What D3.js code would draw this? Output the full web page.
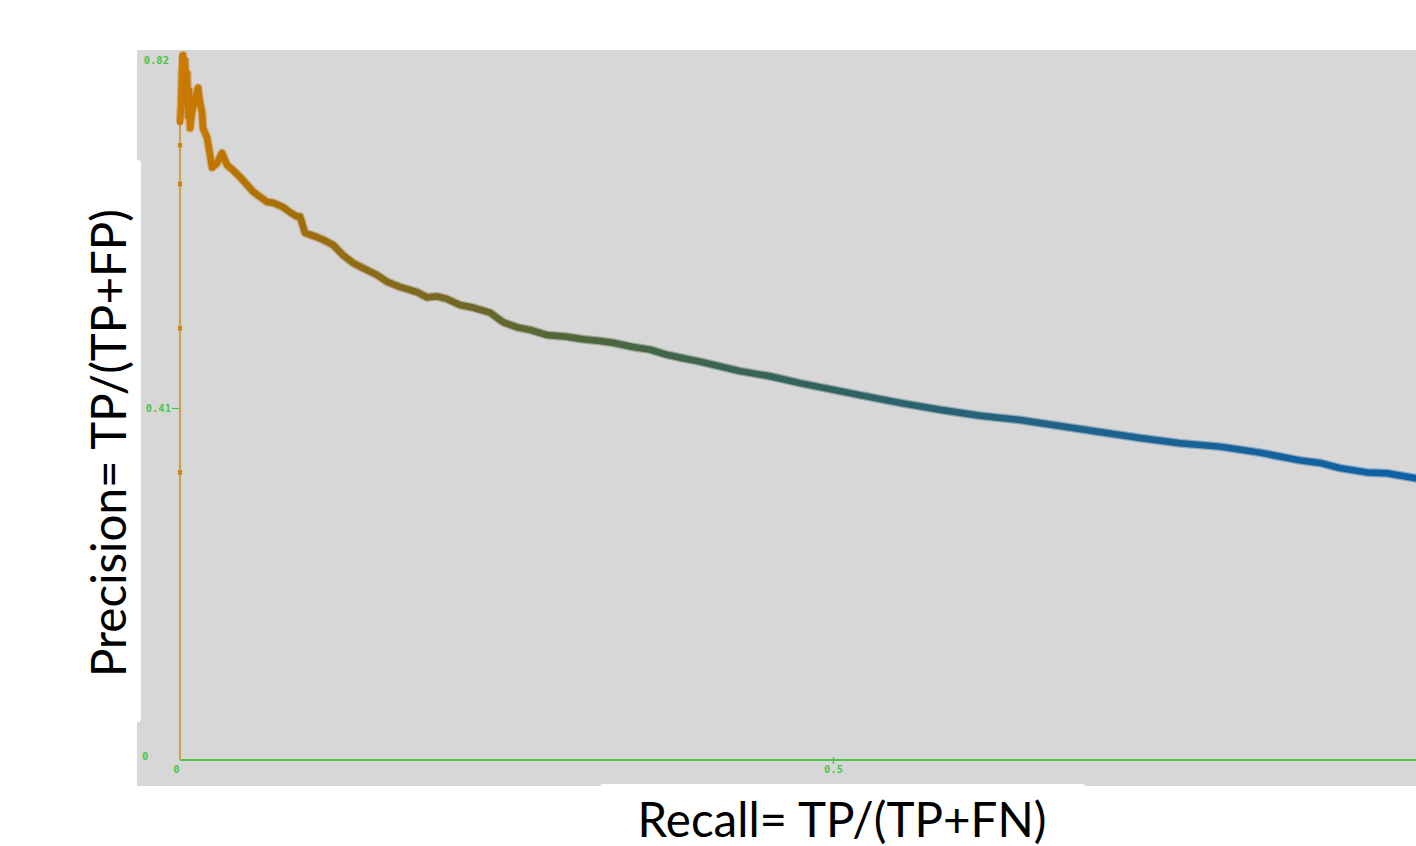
<!DOCTYPE html>
<html>
<head>
<meta charset="utf-8">
<script src="https://cdn.jsdelivr.net/npm/d3@7"></script>
<style>
  html, body { margin: 0; padding: 0; background: #ffffff; }
  svg { display: block; }
</style>
</head>
<body>
<svg id="chart" width="1416" height="846"></svg>
<script>
// ---- data ----
const recallAxisTicks = [0, 0.5];
const recallTickLabels = ["0", "0.5"];
const precisionTicks = [0.41, 0.82];
const precisionTickLabels = ["0.41", "0.82"];

// points at recall = 0 (vertical start of the curve)
const startRecall = [0, 0, 0, 0, 0, 0];
const startPrecision = [0, 0.335, 0.503, 0.671, 0.716, 0.743];

// main precision/recall curve
const recall = [0, 0.0008, 0.0015, 0.0023, 0.0030, 0.0038, 0.0046, 0.0054, 0.0061, 0.0069, 0.0077,
  0.0092, 0.0115, 0.0138, 0.0153, 0.0168, 0.0176, 0.0207, 0.0230, 0.0245, 0.0283, 0.0322, 0.0360,
  0.0406, 0.0459, 0.0513, 0.0559, 0.0613, 0.0666, 0.0712, 0.0789, 0.0842, 0.0896, 0.0919, 0.0957,
  0.1049, 0.1095, 0.1172, 0.1248, 0.1325, 0.1401, 0.1508, 0.1585, 0.1685, 0.1815, 0.1891, 0.1968,
  0.2044, 0.2144, 0.2243, 0.2374, 0.2473, 0.2580, 0.2680, 0.2810, 0.2963, 0.3086, 0.3216, 0.3315,
  0.3469, 0.3599, 0.3729, 0.3851, 0.3982, 0.4288, 0.4518, 0.4747, 0.4977, 0.5207, 0.5513, 0.5819,
  0.6126, 0.6432, 0.6738, 0.7044, 0.7351, 0.7657, 0.7963, 0.8270, 0.8576, 0.8729, 0.8882, 0.9089,
  0.9242, 0.9464, 0.9700];
const precision = [0.743, 0.760, 0.800, 0.821, 0.790, 0.815, 0.770, 0.800, 0.750, 0.780, 0.736,
  0.755, 0.769, 0.783, 0.765, 0.755, 0.736, 0.725, 0.705, 0.690, 0.695, 0.707, 0.693,
  0.687, 0.679, 0.670, 0.662, 0.656, 0.650, 0.649, 0.644, 0.638, 0.633, 0.633, 0.614,
  0.609, 0.606, 0.600, 0.588, 0.579, 0.573, 0.565, 0.557, 0.551, 0.545, 0.539, 0.540,
  0.537, 0.530, 0.527, 0.521, 0.510, 0.504, 0.501, 0.495, 0.493, 0.490, 0.488, 0.486,
  0.481, 0.478, 0.472, 0.468, 0.464, 0.453, 0.447, 0.439, 0.432, 0.425, 0.416, 0.408,
  0.401, 0.396, 0.389, 0.382, 0.375, 0.369, 0.365, 0.358, 0.349, 0.346, 0.340, 0.335,
  0.334, 0.328, 0.321];

// colour ramp along recall
const rampOffsets = [0, 0.05, 0.12, 0.2, 0.3, 0.42, 0.55, 0.7, 0.85, 1.0];
const rampColors = ["#cc7a00", "#b47200", "#966c12", "#7a6822", "#526638", "#3d6450",
  "#2c6268", "#20628a", "#14629c", "#0c60a6"];

// ---- drawing ----
const svg = d3.select("#chart");
const x = d3.scaleLinear().domain([0, 1]).range([180, 1486]);
const y = d3.scaleLinear().domain([0, 0.82]).range([760, 56]);

// plot background
svg.append("rect").attr("x", 137).attr("y", 50).attr("width", 1416 - 137).attr("height", 736)
  .attr("fill", "#d7d7d7");

// white boxes behind axis titles
svg.append("rect").attr("x", 60).attr("y", 160).attr("width", 81).attr("height", 562)
  .attr("rx", 3).attr("fill", "#ffffff");
svg.append("rect").attr("x", 600).attr("y", 784).attr("width", 485).attr("height", 70)
  .attr("rx", 3).attr("fill", "#ffffff");

const green = "#4cc44c";
const tickFont = "'DejaVu Sans Mono', monospace";
const tickSize = 10.5;

// x axis
const xAxis = d3.axisBottom(x).tickValues(recallAxisTicks)
  .tickFormat((d, i) => recallTickLabels[i]).tickSize(0).tickPadding(6);
const gx = svg.append("g").attr("transform", `translate(0,${y(0)})`).call(xAxis);
gx.select(".domain").attr("stroke", green).attr("stroke-width", 2)
  .attr("d", `M${x(0)},0H1416`);
gx.selectAll(".tick text").attr("fill", green).attr("font-family", tickFont)
  .attr("font-size", tickSize).attr("font-weight", "bold");
gx.selectAll(".tick").filter(d => d === 0).select("text").attr("dx", -4);
gx.selectAll(".tick").filter(d => d > 0).append("line")
  .attr("y1", -3).attr("y2", 4).attr("stroke", green).attr("stroke-width", 1.5);

// y axis
const yAxis = d3.axisLeft(y).tickValues(precisionTicks)
  .tickFormat((d, i) => precisionTickLabels[i]).tickSize(8).tickPadding(1);
const gy = svg.append("g").attr("transform", `translate(${x(0)},0)`).call(yAxis);
gy.select(".domain").attr("stroke", green).attr("stroke-width", 2)
  .attr("d", `M0,${y(0)}V${y(0.82) - 2}`);
gy.selectAll(".tick line").attr("stroke", green).attr("stroke-width", 1.2);
gy.selectAll(".tick").filter(d => d === 0.82).select("line").remove();
gy.selectAll(".tick").filter(d => d === 0.82).select("text").attr("x", -11).attr("dy", "0.7em");
gy.selectAll(".tick text").attr("fill", green).attr("font-family", tickFont)
  .attr("font-size", tickSize).attr("font-weight", "bold");
// zero label of the precision axis
svg.append("text").attr("x", 142).attr("y", y(0)).text("0")
  .attr("fill", green).attr("font-family", tickFont).attr("font-size", tickSize).attr("font-weight", "bold");

// gradient
const grad = svg.append("defs").append("linearGradient").attr("id", "ramp")
  .attr("gradientUnits", "userSpaceOnUse")
  .attr("x1", x(0)).attr("x2", x(0.97)).attr("y1", 0).attr("y2", 0);
rampOffsets.forEach((o, i) => grad.append("stop").attr("offset", o).attr("stop-color", rampColors[i]));

// vertical start of the curve at recall 0
const startPts = startRecall.map((r, i) => [r, startPrecision[i]]);
svg.append("path").datum(startPts)
  .attr("d", d3.line().x(d => x(d[0])).y(d => y(d[1])))
  .attr("fill", "none").attr("stroke", "#c9a255").attr("stroke-width", 2.2);
const sym = d3.symbol().type(d3.symbolCross).size(16);
svg.selectAll(".startMark").data(startPts.slice(1)).enter().append("path")
  .attr("transform", d => `translate(${x(d[0])},${y(d[1])}) rotate(45)`)
  .attr("d", sym).attr("fill", "#d07c00");

// main curve
const pts = recall.map((r, i) => [r, precision[i]]);
const line = d3.line().x(d => x(d[0])).y(d => y(d[1]));
svg.append("path").datum(pts).attr("d", line)
  .attr("fill", "none").attr("stroke", "url(#ramp)").attr("stroke-width", 9)
  .attr("stroke-opacity", 0.4).attr("stroke-linejoin", "round");
svg.append("path").datum(pts).attr("d", line)
  .attr("fill", "none").attr("stroke", "url(#ramp)").attr("stroke-width", 6.5)
  .attr("stroke-linejoin", "round").attr("stroke-linecap", "round");

// axis titles
const titleFont = "Lato, 'Open Sans', sans-serif";
svg.append("text").attr("x", 842).attr("y", 837).attr("text-anchor", "middle")
  .attr("font-family", titleFont).attr("font-size", 47.5).attr("fill", "#000")
  .text("Recall= TP/(TP+FN)");
svg.append("text").attr("transform", "translate(126,443) rotate(-90)").attr("text-anchor", "middle")
  .attr("font-family", titleFont).attr("font-size", 47.5).attr("fill", "#000")
  .text("Precision= TP/(TP+FP)");
</script>
</body>
</html>
